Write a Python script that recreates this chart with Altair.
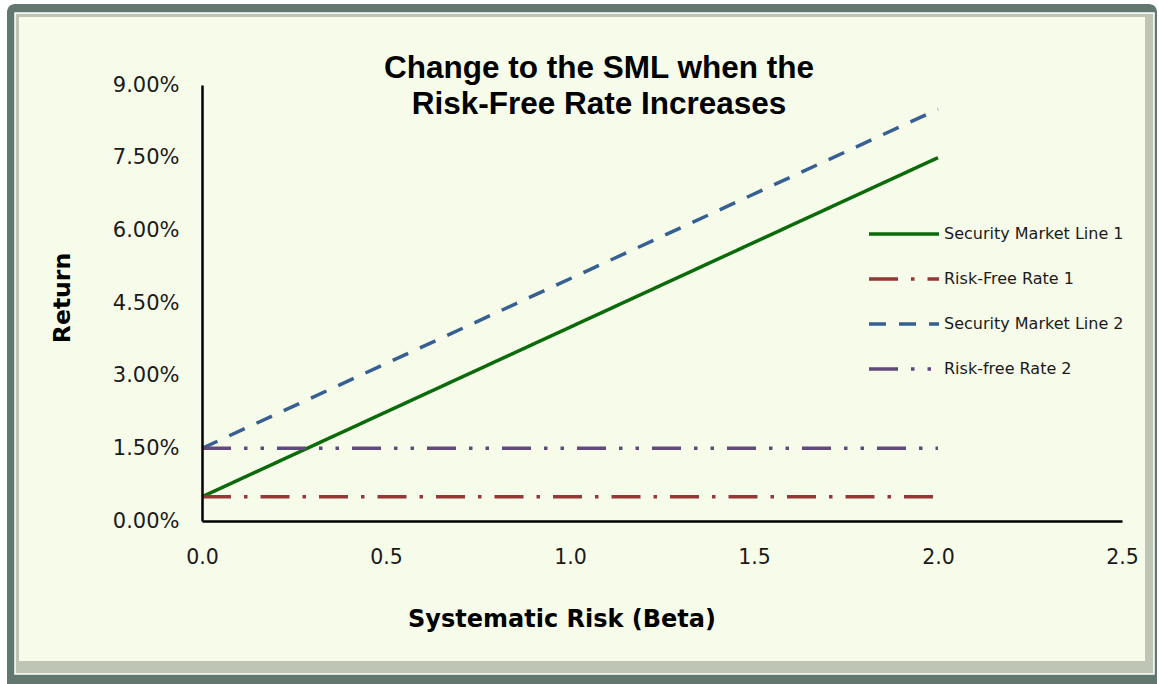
import altair as alt
import pandas as pd

# ---- data ----
beta = [0.0, 2.0]
series_names = ["Security Market Line 1", "Risk-Free Rate 1", "Security Market Line 2", "Risk-free Rate 2"]
sml1 = [0.005, 0.075]
rf1 = [0.005, 0.005]
sml2 = [0.015, 0.085]
rf2 = [0.015, 0.015]
series_values = [sml1, rf1, sml2, rf2]
x_ticks = [0.0, 0.5, 1.0, 1.5, 2.0, 2.5]
y_ticks = [0.0, 0.015, 0.03, 0.045, 0.06, 0.075, 0.09]
title_text = "Change to the SML when the\nRisk-Free Rate Increases"
x_title = "Systematic Risk (Beta)"
y_title = "Return"

colors = ["#0B6B0B", "#953735", "#376092", "#604A7B"]
dashes = [[1, 0], [29, 13, 3.5, 13], [17, 13], [29, 13, 3.5, 13, 3.5, 13]]

rows = []
for name, vals in zip(series_names, series_values):
    for b, v in zip(beta, vals):
        rows.append({"series": name, "beta": b, "ret": v})
df = pd.DataFrame(rows)

W, H = 920, 436
OX, OY = 202, 85  # plot origin in page pixels

one = pd.DataFrame({"k": [0]})

frame_dark = alt.Chart(one).mark_rect(fill="#62786F", cornerRadius=8, clip=False).encode(
    x=alt.value(7 - OX), x2=alt.value(1157 - OX), y=alt.value(4 - OY), y2=alt.value(700 - OY)
)
frame_mid = alt.Chart(one).mark_rect(fill="#BFC5B4", stroke="white", strokeWidth=1.5, clip=False).encode(
    x=alt.value(15 - OX), x2=alt.value(1154 - OX), y=alt.value(13 - OY), y2=alt.value(674 - OY)
)
frame_light = alt.Chart(one).mark_rect(fill="#F7FBEA", clip=False).encode(
    x=alt.value(19 - OX), x2=alt.value(1145 - OX), y=alt.value(17 - OY), y2=alt.value(661 - OY)
)

title = alt.Chart(one).mark_text(
    text=title_text, lineBreak="\n", lineHeight=36, font="Liberation Sans", fontWeight="bold",
    fontSize=31.5, align="center", baseline="alphabetic", color="#000000", clip=False
).encode(x=alt.value(599 - OX), y=alt.value(78 - OY))

ytitle = alt.Chart(one).mark_text(
    text=y_title, font="DejaVu Sans", fontWeight="bold", fontSize=23.5, angle=270,
    align="center", baseline="middle", color="#000000", clip=False
).encode(x=alt.value(63 - OX), y=alt.value(298 - OY))

xtitle = alt.Chart(one).mark_text(
    text=x_title, font="DejaVu Sans", fontWeight="bold", fontSize=24,
    align="center", baseline="middle", color="#000000", clip=False
).encode(x=alt.value(562 - OX), y=alt.value(620 - OY))

lines = alt.Chart(df).mark_line(strokeWidth=3.5).encode(
    x=alt.X("beta:Q", scale=alt.Scale(domain=[0, 2.5], nice=False, zero=False),
            axis=alt.Axis(values=x_ticks, format=".1f", title=None, grid=False, ticks=False,
                          domainColor="#000000", domainWidth=2.5, labelFont="DejaVu Sans",
                          labelFontSize=20.5, labelColor="#1a1a1a", labelPadding=36,
                          labelBaseline="middle", labelFlush=False, zindex=1)),
    y=alt.Y("ret:Q", scale=alt.Scale(domain=[0, 0.09], nice=False),
            axis=alt.Axis(values=y_ticks, format=".2%", title=None, grid=False, ticks=False,
                          domainColor="#000000", domainWidth=2.5, labelFont="DejaVu Sans",
                          labelFontSize=21, labelColor="#1a1a1a", labelPadding=23, labelFlush=False,
                          zindex=1)),
    color=alt.Color("series:N", scale=alt.Scale(domain=series_names, range=colors),
                    legend=alt.Legend(title=None, orient="none", legendX=665, legendY=112,
                                      symbolType="stroke", symbolSize=4900, symbolStrokeWidth=3.5,
                                      labelFont="DejaVu Sans", labelFontSize=16, labelColor="#1a1a1a",
                                      labelOffset=3, rowPadding=-8, labelLimit=400, zindex=1)),
    strokeDash=alt.StrokeDash("series:N", scale=alt.Scale(domain=series_names, range=dashes), legend=None),
    detail="series:N",
)

chart = alt.layer(frame_dark, frame_mid, frame_light, title, ytitle, xtitle, lines).properties(
    width=W, height=H,
    autosize=alt.AutoSizeParams(type="none"),
    padding={"left": OX, "top": OY, "right": 1159 - OX - W, "bottom": 684 - OY - H},
    background="white",
).configure_view(stroke=None)

chart.save("out.html", embed_options={"renderer": "svg", "actions": False})
